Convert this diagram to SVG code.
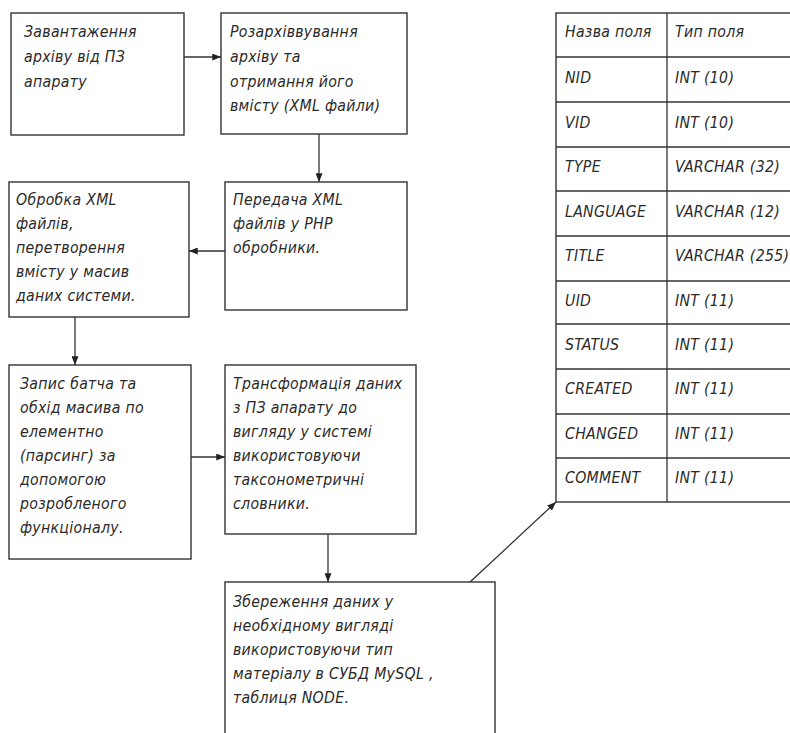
<svg xmlns="http://www.w3.org/2000/svg" width="790" height="733" viewBox="0 0 790 733">
<defs>
<style>
.box{fill:#fff;stroke:#333;stroke-width:1.4}
.ln{stroke:#333;stroke-width:1.3;fill:none}
.t{font-family:"DejaVu Sans Condensed","DejaVu Sans",sans-serif;font-stretch:condensed;font-style:italic;font-size:15.7px;fill:#2a2a2a;letter-spacing:0.3px}
</style>
<marker id="ah" viewBox="0 0 10 8" refX="10" refY="4" markerWidth="9" markerHeight="7" markerUnits="userSpaceOnUse" orient="auto">
<path d="M0,0 L10,4 L0,8 Z" fill="#222"/>
</marker>
</defs>
<rect width="790" height="733" fill="#fff"/>
<g id="connectors">
<line class="ln" x1="184" y1="57" x2="221" y2="57" marker-end="url(#ah)"/>
<line class="ln" x1="319" y1="134" x2="319" y2="182" marker-end="url(#ah)"/>
<line class="ln" x1="225" y1="251" x2="189" y2="251" marker-end="url(#ah)"/>
<line class="ln" x1="75" y1="317" x2="75" y2="365" marker-end="url(#ah)"/>
<line class="ln" x1="191" y1="457" x2="225" y2="457" marker-end="url(#ah)"/>
<line class="ln" x1="328" y1="534" x2="328" y2="582" marker-end="url(#ah)"/>
<line class="ln" x1="470" y1="582" x2="556" y2="502" stroke-width="1" marker-end="url(#ah)"/>
</g>
<g id="n1">
<rect class="box" x="11" y="13" width="173" height="122"/>
<text class="t" x="24" y="37">Завантаження</text>
<text class="t" x="24" y="62">архіву від ПЗ</text>
<text class="t" x="24" y="87">апарату</text>
</g>
<g id="n2">
<rect class="box" x="221" y="13" width="186" height="121"/>
<text class="t" x="230" y="37">Розархіввування</text>
<text class="t" x="230" y="62">архіву та</text>
<text class="t" x="230" y="87">отримання його</text>
<text class="t" x="230" y="111">вмісту (XML файли)</text>
</g>
<g id="n3">
<rect class="box" x="9" y="182" width="180" height="135"/>
<text class="t" x="16" y="205">Обробка XML</text>
<text class="t" x="16" y="229">файлів,</text>
<text class="t" x="16" y="253">перетворення</text>
<text class="t" x="16" y="277">вмісту у масив</text>
<text class="t" x="16" y="301">даних системи.</text>
</g>
<g id="n4">
<rect class="box" x="225" y="182" width="182" height="128"/>
<text class="t" x="233" y="205">Передача XML</text>
<text class="t" x="233" y="229">файлів у PHP</text>
<text class="t" x="233" y="253">обробники.</text>
</g>
<g id="n5">
<rect class="box" x="9" y="365" width="182" height="194"/>
<text class="t" x="20" y="389">Запис батча та</text>
<text class="t" x="20" y="413">обхід масива по</text>
<text class="t" x="20" y="437">елементно</text>
<text class="t" x="20" y="461">(парсинг) за</text>
<text class="t" x="20" y="485">допомогою</text>
<text class="t" x="20" y="509">розробленого</text>
<text class="t" x="20" y="533">функціоналу.</text>
</g>
<g id="n6">
<rect class="box" x="225" y="365" width="191" height="169"/>
<text class="t" x="233" y="389">Трансформація даних</text>
<text class="t" x="233" y="413">з ПЗ апарату до</text>
<text class="t" x="233" y="437">вигляду у системі</text>
<text class="t" x="233" y="461">використовуючи</text>
<text class="t" x="233" y="485">таксонометричні</text>
<text class="t" x="233" y="509">словники.</text>
</g>
<g id="n7">
<rect class="box" x="225" y="582" width="270" height="160"/>
<text class="t" x="233" y="607">Збереження даних у</text>
<text class="t" x="233" y="631">необхідному вигляді</text>
<text class="t" x="233" y="655">використовуючи тип</text>
<text class="t" x="233" y="679">матеріалу в СУБД MySQL ,</text>
<text class="t" x="233" y="703">таблиця NODE.</text>
</g>
<g id="table">
<rect class="box" x="556" y="13" width="250" height="489"/>
<g class="ln">
<line x1="667" y1="13" x2="667" y2="502"/>
<line x1="556" y1="57" x2="800" y2="57"/>
<line x1="556" y1="102" x2="800" y2="102"/>
<line x1="556" y1="147" x2="800" y2="147"/>
<line x1="556" y1="191" x2="800" y2="191"/>
<line x1="556" y1="236" x2="800" y2="236"/>
<line x1="556" y1="281" x2="800" y2="281"/>
<line x1="556" y1="324" x2="800" y2="324"/>
<line x1="556" y1="369" x2="800" y2="369"/>
<line x1="556" y1="414" x2="800" y2="414"/>
<line x1="556" y1="458" x2="800" y2="458"/>
</g>
<text class="t" x="565" y="37">Назва поля</text><text class="t" x="675" y="37">Тип поля</text>
<text class="t" x="565" y="83">NID</text><text class="t" x="675" y="83">INT (10)</text>
<text class="t" x="565" y="128">VID</text><text class="t" x="675" y="128">INT (10)</text>
<text class="t" x="565" y="172">TYPE</text><text class="t" x="675" y="172">VARCHAR (32)</text>
<text class="t" x="565" y="217">LANGUAGE</text><text class="t" x="675" y="217">VARCHAR (12)</text>
<text class="t" x="565" y="261">TITLE</text><text class="t" x="675" y="261">VARCHAR (255)</text>
<text class="t" x="565" y="306">UID</text><text class="t" x="675" y="306">INT (11)</text>
<text class="t" x="565" y="350">STATUS</text><text class="t" x="675" y="350">INT (11)</text>
<text class="t" x="565" y="394">CREATED</text><text class="t" x="675" y="394">INT (11)</text>
<text class="t" x="565" y="439">CHANGED</text><text class="t" x="675" y="439">INT (11)</text>
<text class="t" x="565" y="483">COMMENT</text><text class="t" x="675" y="483">INT (11)</text>
</g>
</svg>
